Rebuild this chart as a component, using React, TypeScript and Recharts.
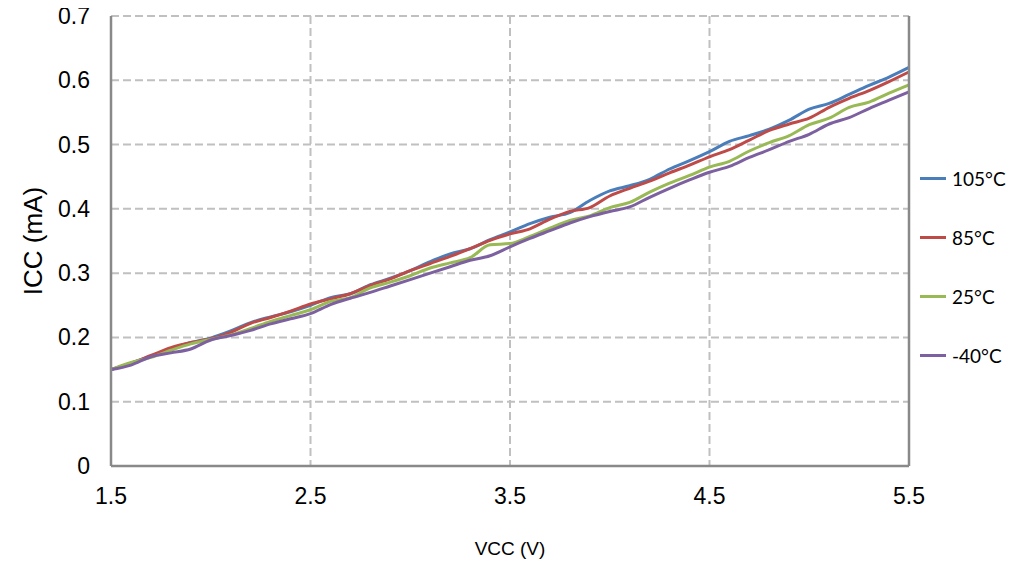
import React from 'react';
import { LineChart, Line, XAxis, YAxis, CartesianGrid } from 'recharts';

const vcc = [1.5,1.6,1.7,1.8,1.9,2.0,2.1,2.2,2.3,2.4,2.5,2.6,2.7,2.8,2.9,3.0,3.1,3.2,3.3,3.4,3.5,3.6,3.7,3.8,3.9,4.0,4.1,4.2,4.3,4.4,4.5,4.6,4.7,4.8,4.9,5.0,5.1,5.2,5.3,5.4,5.5];
const t105 = [0.150,0.160,0.171,0.182,0.192,0.199,0.210,0.223,0.232,0.240,0.250,0.262,0.268,0.282,0.292,0.304,0.318,0.330,0.338,0.352,0.364,0.377,0.387,0.394,0.413,0.428,0.436,0.446,0.462,0.475,0.489,0.505,0.514,0.524,0.538,0.555,0.564,0.578,0.592,0.605,0.620];
const t85 = [0.150,0.160,0.172,0.184,0.192,0.198,0.208,0.222,0.231,0.241,0.252,0.260,0.268,0.281,0.291,0.304,0.315,0.326,0.338,0.351,0.361,0.369,0.384,0.396,0.402,0.420,0.432,0.443,0.456,0.468,0.481,0.492,0.507,0.522,0.532,0.541,0.558,0.572,0.584,0.598,0.613];
const t25 = [0.150,0.161,0.169,0.180,0.190,0.197,0.204,0.214,0.225,0.234,0.243,0.256,0.262,0.277,0.286,0.296,0.308,0.316,0.324,0.344,0.346,0.357,0.370,0.382,0.389,0.402,0.410,0.426,0.440,0.452,0.465,0.474,0.490,0.503,0.514,0.531,0.541,0.558,0.566,0.580,0.593];
const tm40 = [0.150,0.157,0.170,0.176,0.182,0.196,0.203,0.211,0.221,0.229,0.237,0.251,0.261,0.270,0.280,0.290,0.300,0.310,0.320,0.327,0.341,0.354,0.366,0.378,0.388,0.396,0.403,0.418,0.432,0.445,0.457,0.466,0.480,0.492,0.505,0.516,0.532,0.542,0.556,0.569,0.582];

const xTicks = [1.5, 2.5, 3.5, 4.5, 5.5];
const yTicks = [0, 0.1, 0.2, 0.3, 0.4, 0.5, 0.6, 0.7];
const seriesNames = ['105°C', '85°C', '25°C', '-40°C'];
const seriesKeys = ['t105', 't85', 't25', 'tm40'];
const colors = ['#4a7ebb', '#be4b48', '#98b954', '#7d60a0'];

const data = vcc.map((v, i) => ({ vcc: v, t105: t105[i], t85: t85[i], t25: t25[i], tm40: tm40[i] }));

const FONT = '"Liberation Sans", Arial, sans-serif';
const AXIS = '#898989';

const XTick = (props: any) => {
  const { x, y, payload } = props;
  return (
    <text x={x} y={y + 30} textAnchor="middle" dominantBaseline="central" fontSize={23} fontFamily={FONT} fill="#000">
      {payload.value}
    </text>
  );
};

const YTick = (props: any) => {
  const { x, y, payload } = props;
  return (
    <text x={x - 21} y={y} textAnchor="end" dominantBaseline="central" fontSize={23} fontFamily={FONT} fill="#000">
      {payload.value === 0 ? '0' : String(payload.value)}
    </text>
  );
};

const RTick = (props: any) => {
  const { x, y } = props;
  return <line x1={x - 6} y1={y} x2={x} y2={y} stroke={AXIS} strokeWidth={2} />;
};

const LegendBox = () => (
  <div style={{ position: 'absolute', left: 912, top: 149, width: 100, fontFamily: 'Lato, "Open Sans", sans-serif', fontSize: 19 }}>
    {seriesNames.map((n, i) => (
      <div key={n} style={{ height: 59, display: 'flex', alignItems: 'center' }}>
        <div style={{ width: 26, height: 3, background: colors[i], marginRight: 6 }} />
        <span style={{ color: '#000' }}>{n}</span>
      </div>
    ))}
  </div>
);

export default function App() {
  return (
    <div style={{ marginTop: -8, position: 'relative', width: 1010, height: 564 }}>
      <LineChart width={1010} height={564} data={data} margin={{ top: 16, right: 0, bottom: 8, left: 0 }}>
        <CartesianGrid yAxisId="l" stroke="#c0c0c0" strokeWidth={2} strokeDasharray="8 4" verticalValues={xTicks} horizontalValues={yTicks} />
        <XAxis
          dataKey="vcc"
          type="number"
          domain={[1.5, 5.5]}
          ticks={xTicks}
          height={90}
          tickLine={false}
          tickSize={0}
          tickMargin={0}
          axisLine={{ stroke: AXIS, strokeWidth: 2.5 }}
          tick={<XTick />}
          interval={0}
          label={{
            content: (p: any) => {
              const vb = p.viewBox;
              return (
                <text x={vb.x + vb.width / 2} y={vb.y + 82} textAnchor="middle" dominantBaseline="central" fontSize={19} fontFamily={FONT} fill="#000">
                  VCC (V)
                </text>
              );
            },
          }}
        />
        <YAxis
          yAxisId="l"
          domain={[0, 0.7]}
          ticks={yTicks}
          width={103}
          tickLine={false}
          tickSize={0}
          tickMargin={0}
          axisLine={{ stroke: AXIS, strokeWidth: 2.5 }}
          tick={<YTick />}
          interval={0}
          label={{
            content: (p: any) => {
              const vb = p.viewBox;
              const cx = vb.x + 25;
              const cy = vb.y + vb.height / 2;
              return (
                <text x={cx} y={cy} textAnchor="middle" dominantBaseline="central" fontSize={26} fontFamily={FONT} fill="#000" transform={`rotate(-90, ${cx}, ${cy})`}>
                  ICC (mA)
                </text>
              );
            },
          }}
        />
        <YAxis
          yAxisId="r"
          orientation="right"
          domain={[0, 0.7]}
          ticks={yTicks}
          width={109}
          tickLine={false}
          tickSize={0}
          tickMargin={0}
          axisLine={{ stroke: AXIS, strokeWidth: 2.5 }}
          tick={<RTick />}
          interval={0}
        />
        {seriesKeys.map((k, i) => (
          <Line
            key={k}
            yAxisId="l"
            type="monotone"
            dataKey={k}
            name={seriesNames[i]}
            stroke={colors[i]}
            strokeWidth={3}
            dot={false}
            activeDot={false}
            isAnimationActive={false}
          />
        ))}
      </LineChart>
      <LegendBox />
    </div>
  );
}
